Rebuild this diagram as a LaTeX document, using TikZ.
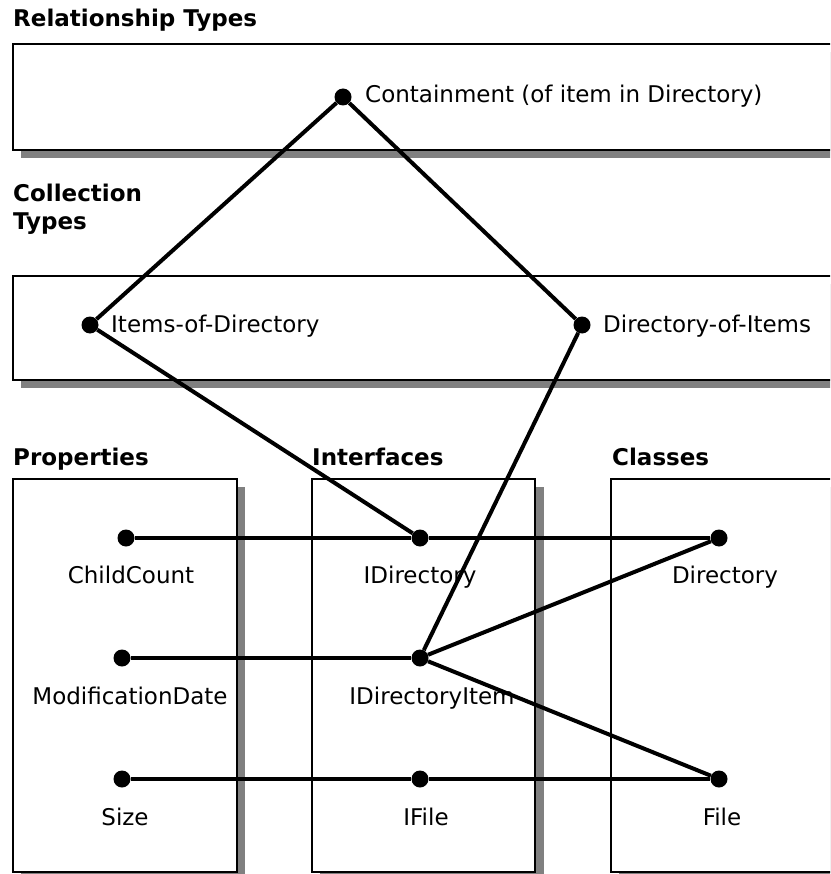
\documentclass[tikz,border=0pt]{standalone}
\usepackage{fontspec}
\setmainfont{DejaVu Sans}
\usetikzlibrary{positioning}

\definecolor{shadowgray}{RGB}{128,128,128}

\tikzset{
  panel/.style={draw=black,line width=1.8pt,fill=white},
  panelshadow/.style={fill=shadowgray},
  joint/.style={circle,fill=black,inner sep=0pt,minimum size=17pt},
  link/.style={black,line width=4pt},
  heading/.style={anchor=base west,inner sep=0pt,align=left,font=\fontsize{23}{28}\selectfont\bfseries},
  lbl/.style={anchor=base,inner sep=0pt,font=\fontsize{23}{28}\selectfont},
  rlbl/.style={anchor=base west,inner sep=0pt,font=\fontsize{23}{28}\selectfont}
}

\begin{document}
\begin{tikzpicture}[x=1pt,y=-1pt]

\useasboundingbox (0,0) rectangle (830,874);
\clip (0,0) rectangle (830,874);

% panels with their shadows
\fill[panelshadow] (21,52) rectangle (860,158);
\draw[panel] (13,44) rectangle (850,150);
\fill[panelshadow] (21,284) rectangle (860,388);
\draw[panel] (13,276) rectangle (850,380);

\fill[panelshadow] (21,487) rectangle (245,890);
\draw[panel] (13,479) rectangle (237,872);
\fill[panelshadow] (320,487) rectangle (544,890);
\draw[panel] (312,479) rectangle (535,872);
\fill[panelshadow] (619,487) rectangle (860,890);
\draw[panel] (611,479) rectangle (850,872);

% headings
\node[heading] (relhead) at (13,27) {Relationship Types};
\node[heading] (colhead) at (13,230) {Collection\\Types};
\node[heading] (prophead) at (13,465) {Properties};
\node[heading] (ifchead) at (312,465) {Interfaces};
\node[heading] (clshead) at (612,465) {Classes};

% joints
\node[joint] (cont) at (343,97) {};
\node[joint] (itemsdir) at (90,325) {};
\node[joint] (dirofitems) at (582,325) {};
\node[joint] (childcount) at (126,538) {};
\node[joint] (idir) at (420,538) {};
\node[joint] (dirclass) at (719,538) {};
\node[joint] (moddate) at (122,658) {};
\node[joint] (iditem) at (420,658) {};
\node[joint] (size) at (122,779) {};
\node[joint] (ifile) at (420,779) {};
\node[joint] (file) at (719,779) {};

% labels
\node[rlbl] (contlbl) at ([xshift=22pt,yshift=-6pt]cont) {Containment (of item in Directory)};
\node[rlbl] (itemsdirlbl) at ([xshift=21pt,yshift=-7pt]itemsdir) {Items-of-Directory};
\node[rlbl] (dirofitemslbl) at ([xshift=21pt,yshift=-7pt]dirofitems) {Directory-of-Items};

\node[lbl] (childcountlbl) at ([xshift=5pt,yshift=-45pt]childcount) {ChildCount};
\node[lbl] (moddatelbl) at ([xshift=8pt,yshift=-46pt]moddate) {ModificationDate};
\node[lbl] (sizelbl) at ([xshift=3pt,yshift=-46pt]size) {Size};
\node[lbl] (idirlbl) at ([xshift=0pt,yshift=-45pt]idir) {IDirectory};
\node[lbl] (iditemlbl) at ([xshift=12pt,yshift=-46pt]iditem) {IDirectoryItem};
\node[lbl] (ifilelbl) at ([xshift=6pt,yshift=-46pt]ifile) {IFile};
\node[lbl] (dirclasslbl) at ([xshift=6pt,yshift=-45pt]dirclass) {Directory};
\node[lbl] (filelbl) at ([xshift=3pt,yshift=-46pt]file) {File};

% connectors
\draw[link] (cont) -- (itemsdir);
\draw[link] (cont) -- (dirofitems);
\draw[link] (itemsdir) -- (idir);
\draw[link] (dirofitems) -- (iditem);
\draw[link] (childcount) -- (idir) -- (dirclass);
\draw[link] (moddate) -- (iditem);
\draw[link] (iditem) -- (dirclass);
\draw[link] (iditem) -- (file);
\draw[link] (size) -- (ifile) -- (file);

\end{tikzpicture}
\end{document}
